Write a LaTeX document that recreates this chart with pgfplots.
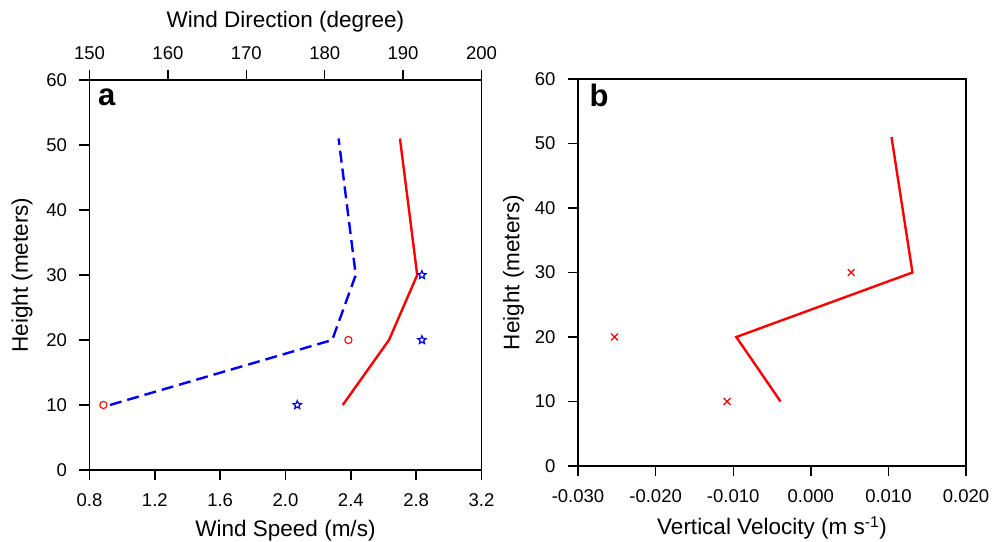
\documentclass[border=0pt]{standalone}
\usepackage{fontspec}
\setmainfont{Liberation Sans}
\usepackage{pgfplots}
\pgfplotsset{compat=1.18}
\pgfdeclareplotmark{ostar}{%
 \pgfpathmoveto{\pgfpointpolar{90}{\pgfplotmarksize}}%
 \pgfpathlineto{\pgfpointpolar{126}{0.45\pgfplotmarksize}}%
 \pgfpathlineto{\pgfpointpolar{162}{\pgfplotmarksize}}%
 \pgfpathlineto{\pgfpointpolar{198}{0.45\pgfplotmarksize}}%
 \pgfpathlineto{\pgfpointpolar{234}{\pgfplotmarksize}}%
 \pgfpathlineto{\pgfpointpolar{270}{0.45\pgfplotmarksize}}%
 \pgfpathlineto{\pgfpointpolar{306}{\pgfplotmarksize}}%
 \pgfpathlineto{\pgfpointpolar{342}{0.45\pgfplotmarksize}}%
 \pgfpathlineto{\pgfpointpolar{18}{\pgfplotmarksize}}%
 \pgfpathlineto{\pgfpointpolar{54}{0.45\pgfplotmarksize}}%
 \pgfpathclose\pgfusepathqstroke}
\pgfplotsset{
  common/.style={
    scale only axis,
    tick align=outside,
    major tick length=10pt,
    axis line style={line width=1.4pt},
    every tick/.style={line width=1.4pt, black},
    tick label style={font=\fontsize{18.5}{18.5}\selectfont},
    label style={font=\fontsize{22.5}{24}\selectfont},
    /pgf/number format/assume math mode=true,
    ymin=0, ymax=60, ytick={0,10,...,60},
    yticklabel style={xshift=-9pt},
    clip=false,
  }
}
\begin{document}
\begin{tikzpicture}
\useasboundingbox (0,0) rectangle (1004pt,541pt);
% Panel a, bottom axis: wind speed
\begin{axis}[common,
  at={(89.5pt,71pt)}, anchor=south west,
  width=392pt, height=390pt,
  xmin=0.8, xmax=3.2, xtick={0.8,1.2,...,3.21},
  xticklabel style={yshift=-10pt, /pgf/number format/.cd, fixed, fixed zerofill, precision=1},
  xtick pos=bottom, ytick pos=left,
  xlabel={Wind Speed (m/s)},
  ylabel={Height (meters)},
  xlabel style={yshift=-7pt},
  ylabel style={yshift=7pt},
]
\addplot[blue, line width=2.4pt, dash pattern=on 12pt off 6pt] coordinates {(0.925,10) (2.286,20) (2.43,30) (2.325,51)};
\addplot[only marks, red, mark=o, mark size=3.6pt, line width=1.1pt] coordinates {(0.885,10) (2.385,20)};
\node[anchor=base west, xshift=5pt, yshift=-25pt, font=\fontsize{31}{31}\selectfont\bfseries] at (rel axis cs:0,1) {a};
\end{axis}
% Panel a, top axis: wind direction
\begin{axis}[common,
  at={(89.5pt,71pt)}, anchor=south west,
  width=392pt, height=390pt,
  xmin=150, xmax=200, xtick={150,160,...,200},
  xticklabel style={yshift=7pt},
  axis x line*=top, axis y line=none,
  xlabel={Wind Direction (degree)},
  xlabel style={yshift=7pt},
]
\addplot[red, line width=2.4pt] coordinates {(182.3,10) (188.2,20) (191.8,30) (189.6,51)};
\addplot[only marks, blue, mark=ostar, mark size=4.3pt, line width=1.2pt] coordinates {(176.5,10) (192.4,20) (192.4,30)};
\end{axis}
% Panel b
\begin{axis}[common,
  at={(578pt,75pt)}, anchor=south west,
  width=388pt, height=387pt,
  xmin=-0.03, xmax=0.02, xtick={-0.03,-0.02,...,0.021},
  xticklabel style={yshift=-10pt, /pgf/number format/.cd, fixed, fixed zerofill, precision=3},
  scaled x ticks=false,
  xtick pos=bottom, ytick pos=left,
  xlabel={Vertical Velocity (m s\textsuperscript{-1})},
  ylabel={Height (meters)},
  xlabel style={yshift=-7pt},
  ylabel style={yshift=4pt},
]
\addplot[red, line width=2.4pt] coordinates {(-0.0039,10) (-0.0096,20) (0.0131,30) (0.0104,51)};
\addplot[only marks, red, mark=x, mark size=4.8pt, line width=1.2pt] coordinates {(-0.0108,10) (-0.0253,20) (0.0052,30)};
\node[anchor=base west, xshift=8pt, yshift=-27pt, font=\fontsize{31}{31}\selectfont\bfseries] at (rel axis cs:0,1) {b};
\end{axis}
\end{tikzpicture}
\end{document}
